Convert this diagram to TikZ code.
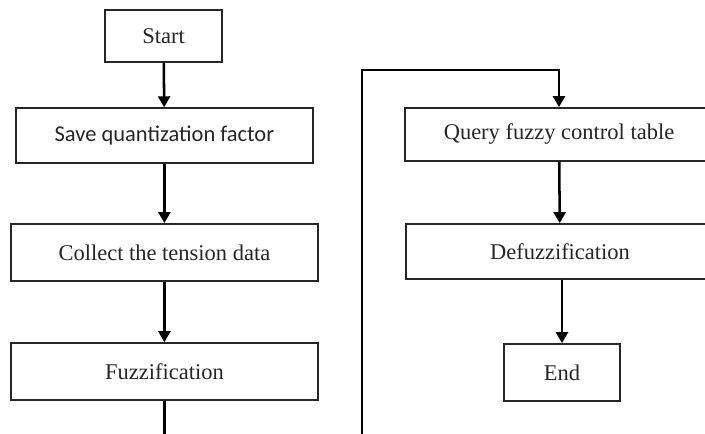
\documentclass[tikz,border=0pt]{standalone}
\usepackage{fontspec}
\setmainfont{Liberation Serif}
\newfontfamily\boxsans{Carlito}
\usetikzlibrary{arrows.meta}

\begin{document}
\begin{tikzpicture}[
  stepbox/.style={draw=black!85, line width=1.2pt, minimum height=1.4cm, inner sep=0pt, text=black!85, font=\fontsize{16}{19}\selectfont},
  flow/.style={-{Triangle[length=7.8pt, width=8.5pt]}, line width=1.8pt},
  plain/.style={line width=1.8pt}]
\useasboundingbox (0,0) rectangle (17.625,10.85);
\clip (0,0) rectangle (17.625,10.85);
\node[stepbox, minimum width=2.925cm, minimum height=1.3cm] (start) at (4.09,9.95) {Start};
\node[stepbox, minimum width=7.425cm, minimum height=1.375cm, font=\fontsize{16}{19}\boxsans] (save) at (4.11,7.46) {Save quantization factor};
\node[stepbox, minimum width=7.675cm, minimum height=1.425cm] (collect) at (4.11,4.54) {Collect the tension data};
\node[stepbox, minimum width=7.675cm, minimum height=1.425cm] (fuzz) at (4.11,1.5625) {Fuzzification};
\node[stepbox, minimum width=7.7cm, minimum height=1.325cm] (query) at (13.975,7.49) {Query fuzzy control table};
\node[stepbox, minimum width=7.7cm, minimum height=1.375cm] (defuzz) at (14.0,4.5625) {Defuzzification};
\node[stepbox, minimum width=2.9cm, minimum height=1.425cm] (stop) at (14.05,1.5375) {End};
\coordinate (fuzzout) at (4.11,-0.1);
\coordinate (loopin) at (9.05,-0.1);
\coordinate (loopup) at (9.05,9.1);
\draw [flow] (start)--(save);
\draw [flow] (save)--(collect);
\draw [flow] (collect)--(fuzz);
\draw [flow] (query)--(defuzz);
\draw [flow] (defuzz.south -| stop.north)--(stop);
% Jump to the second column:
\draw [plain] (fuzz.south)--(fuzzout);
\draw [flow] (loopin)--(loopup)-|(query.north);
\end{tikzpicture}
\end{document}
